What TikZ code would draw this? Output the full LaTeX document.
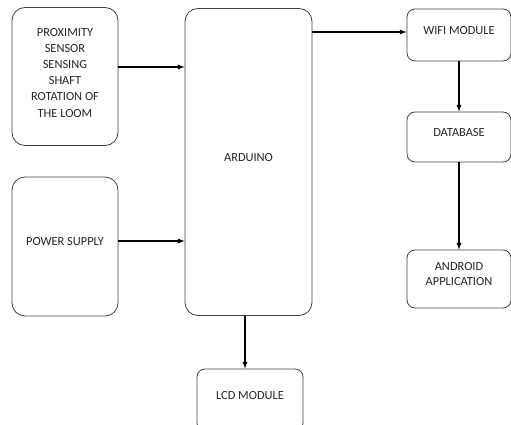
\documentclass[tikz,border=0pt]{standalone}
\usepackage{fontspec}
\setmainfont{Carlito}
\usetikzlibrary{arrows,calc,positioning}
\tikzset{%
	bigblock/.style  = {draw=black!75, line width=0.8pt, rectangle, rounded corners=13pt, text centered, align=center, text=black!85, text depth=10pt},
	smallblock/.style= {draw=black!75, line width=0.8pt, rectangle, rounded corners=8pt, text centered, align=center, text=black!85, text depth=10pt},
	arrow/.style     = {line width=1.3pt, -latex},
}

\begin{document}
\begin{tikzpicture}[x=1pt,y=-1pt,font=\fontsize{12.4}{15.5}\selectfont]
		\useasboundingbox (0,0) rectangle (511,425);
		\node[bigblock, minimum width=106pt, minimum height=138pt, text depth=8pt, font=\fontsize{12.4}{16.2}\selectfont] (prox) at (65,76.5) {PROXIMITY\\SENSOR\\SENSING\\SHAFT\\ROTATION OF\\THE LOOM};
		\node[bigblock, minimum width=106pt, minimum height=139pt] (power) at (65,246.5) {POWER SUPPLY};
		\node[bigblock, minimum width=127pt, minimum height=307pt] (arduino) at (248.5,162) {ARDUINO};
		\node[smallblock, minimum width=104pt, minimum height=52pt] (wifi) at (459,35) {WIFI MODULE};
		\node[smallblock, minimum width=104pt, minimum height=50pt] (db) at (459,137) {DATABASE};
		\node[smallblock, minimum width=104pt, minimum height=58pt] (android) at (459,279) {ANDROID\\APPLICATION};
		\node[smallblock, minimum width=106pt, minimum height=62pt] (lcd) at (250,400) {LCD MODULE};
		
		\draw[arrow] ([yshift=9.5pt]prox.east) -- ([yshift=9.5pt]prox.east -| arduino.west);
		\draw[arrow] ([yshift=5.5pt]power.east) -- ([yshift=5.5pt]power.east -| arduino.west);
		\draw[arrow] ([yshift=3pt]arduino.east |- wifi.west) -- ([yshift=3pt]wifi.west);
		\draw[arrow] (wifi) -- (db);
		\draw[arrow] (db) -- (android);
		\draw[arrow] ([xshift=-3.5pt]arduino.south) -- ([xshift=-3.5pt]arduino.south |- lcd.north);
		
\end{tikzpicture}
\end{document}
